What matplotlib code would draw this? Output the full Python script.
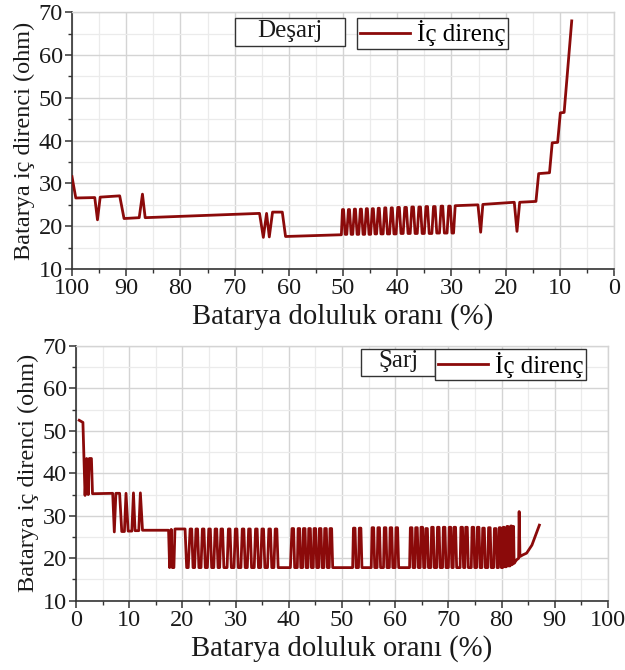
import matplotlib
matplotlib.use("Agg")
import matplotlib.pyplot as plt
from matplotlib.ticker import MultipleLocator
from matplotlib.lines import Line2D
from matplotlib.patches import Rectangle

plt.rcParams['font.family'] = ['Liberation Serif', 'DejaVu Serif']

# --- Discharge: internal resistance vs. state of charge ---
dis_soc = [100.0, 99.3, 95.8, 95.3, 94.8, 91.2, 90.4, 87.6, 87.0, 86.5,
           65.4, 64.7, 64.1, 63.6, 63.0, 61.2, 60.6, 50.5,
           50.3, 50.1, 49.9, 49.6, 49.3, 49.0, 48.8, 48.5,
           48.2, 47.9, 47.7, 47.4, 47.1, 46.8, 46.6, 46.3,
           46.0, 45.7, 45.5, 45.2, 44.9, 44.6, 44.4, 44.1,
           43.8, 43.5, 43.3, 43.0, 42.6, 42.3, 42.1, 41.8,
           41.4, 41.1, 40.9, 40.6, 40.2, 39.9, 39.6, 39.3,
           38.9, 38.6, 38.3, 38.0, 37.6, 37.3, 37.0, 36.7,
           36.3, 36.0, 35.7, 35.4, 35.0, 34.7, 34.4, 34.1,
           33.6, 33.3, 33.0, 32.7, 32.2, 31.9, 31.6, 31.3,
           30.8, 30.5, 30.2, 29.9, 29.6, 29.3,
           25.1, 24.6, 24.2, 18.4, 17.9, 17.4, 14.4, 13.9,
           11.9, 11.4, 10.4, 9.9, 9.2, 7.8]
dis_r = [31.6, 26.6, 26.7, 21.5, 26.8, 27.1, 21.8, 22.0, 27.5, 22.0,
         23.0, 17.4, 23.0, 17.5, 23.3, 23.3, 17.6, 18.0,
         18.0, 23.9, 23.9, 18.1, 18.1, 23.9, 23.9, 18.1,
         18.1, 24.0, 24.0, 18.1, 18.1, 24.0, 24.0, 18.1,
         18.1, 24.1, 24.1, 18.1, 18.1, 24.1, 24.1, 18.2,
         18.2, 24.2, 24.2, 18.2, 18.2, 24.3, 24.3, 18.2,
         18.2, 24.3, 24.3, 18.2, 18.2, 24.4, 24.4, 18.3,
         18.3, 24.4, 24.4, 18.3, 18.3, 24.5, 24.5, 18.3,
         18.3, 24.5, 24.5, 18.3, 18.3, 24.6, 24.6, 18.3,
         18.3, 24.6, 24.6, 18.4, 18.4, 24.7, 24.7, 18.4,
         18.4, 24.7, 24.7, 18.4, 18.4, 24.8,
         25.0, 18.6, 25.1, 25.6, 18.8, 25.6, 25.8, 32.3,
         32.5, 39.5, 39.6, 46.5, 46.6, 68.0]

# --- Charge: internal resistance vs. state of charge ---
chg_soc = [0.6, 1.3, 1.7, 2.0, 2.3, 2.5, 2.9, 3.1, 6.9,
           7.2, 7.5, 8.2, 8.6, 9.1, 9.4, 9.8, 10.5, 10.8, 11.1, 11.8, 12.1, 12.5, 17.4,
           17.6, 17.9, 18.1, 18.4, 18.6, 20.5, 20.8, 21.1,
           21.45, 21.75, 22.0, 22.3, 22.55, 22.85, 23.1, 23.5, 23.75, 24.05, 24.3, 24.7,
           24.95, 25.25, 25.5, 25.9, 26.15, 26.45, 26.7, 27.0, 27.25, 27.55, 27.8, 28.4,
           28.65, 28.95, 29.2, 29.7, 29.95, 30.25, 30.5, 31.0, 31.25, 31.55, 31.8, 32.2,
           32.45, 32.75, 33.0, 33.5, 33.75, 34.05, 34.3, 34.7, 34.95, 35.25, 35.5, 36.0,
           36.25, 36.55, 36.8, 37.2, 37.45, 37.75, 38.0, 40.3,
           40.6, 40.9, 41.1, 41.6, 41.75, 42.05, 42.25, 42.6, 42.75, 43.05, 43.25, 43.6,
           43.75, 44.05, 44.25, 44.6, 44.75, 45.05, 45.25, 45.6, 45.75, 46.05, 46.25, 46.6,
           46.75, 47.05, 47.25, 47.6, 47.75, 48.05, 48.25, 52.0,
           52.15, 52.45, 52.65, 53.1, 53.25, 53.55, 53.75, 55.5,
           55.65, 55.95, 56.15, 56.6, 56.75, 57.05, 57.25, 57.8,
           57.95, 58.25, 58.45, 58.9, 59.05, 59.35, 59.55, 60.0,
           60.15, 60.45, 60.65, 62.7,
           62.85, 63.15, 63.35, 63.7, 63.85, 64.15, 64.35, 64.7,
           64.85, 65.15, 65.35, 65.6, 65.75, 66.05, 66.25, 66.7,
           66.85, 67.15, 67.35, 67.8, 67.95, 68.25, 68.45, 68.9,
           69.05, 69.35, 69.55, 70.0, 70.15, 70.45, 70.65, 70.9,
           71.05, 71.35, 71.55, 72.2, 72.35, 72.65, 72.85, 73.1,
           73.25, 73.55, 73.75, 74.3, 74.45, 74.75, 74.95, 75.3,
           75.45, 75.75, 75.95, 76.3, 76.45, 76.75, 76.95, 77.4,
           77.55, 77.85, 78.05, 78.5, 78.65, 78.95, 79.15, 79.4,
           79.55, 79.8, 79.95, 80.2, 80.3, 80.5, 80.6, 80.9,
           81.0, 81.2, 81.3, 81.6, 81.7, 81.9, 82.0, 82.1, 82.25, 82.35,
           82.8, 83.2, 83.3, 83.45, 84.0, 84.7, 85.7, 87.1]
chg_r = [52.5, 52.0, 34.8, 43.5, 35.0, 43.5, 43.5, 35.2, 35.3,
         26.2, 35.3, 35.3, 26.3, 26.3, 35.3, 26.4, 26.4, 35.4, 26.5, 26.5, 35.4, 26.6, 26.6,
         17.8, 26.8, 17.8, 17.8, 26.9, 26.9, 17.8, 17.8,
         26.9, 26.9, 17.8, 17.8, 26.9, 26.9, 17.8, 17.8, 26.9, 26.9, 17.8, 17.8,
         26.9, 26.9, 17.8, 17.8, 26.9, 26.9, 17.8, 17.8, 26.9, 26.9, 17.8, 17.8,
         26.9, 26.9, 17.8, 17.8, 26.9, 26.9, 17.8, 17.8, 26.9, 26.9, 17.8, 17.8,
         26.9, 26.9, 17.8, 17.8, 26.9, 26.9, 17.8, 17.8, 26.9, 26.9, 17.8, 17.8,
         26.9, 26.9, 17.8, 17.8, 26.9, 26.9, 17.8, 17.8,
         27.0, 27.0, 17.8, 17.8, 27.0, 27.0, 17.8, 17.8, 27.0, 27.0, 17.8, 17.8,
         27.0, 27.0, 17.8, 17.8, 27.0, 27.0, 17.8, 17.8, 27.0, 27.0, 17.8, 17.8,
         27.0, 27.0, 17.8, 17.8, 27.0, 27.0, 17.8, 17.8,
         27.1, 27.1, 17.8, 17.8, 27.1, 27.1, 17.8, 17.8,
         27.2, 27.2, 17.8, 17.8, 27.2, 27.2, 17.8, 17.8,
         27.2, 27.2, 17.8, 17.8, 27.2, 27.2, 17.8, 17.8,
         27.2, 27.2, 17.8, 17.8,
         27.2, 27.2, 17.8, 17.8, 27.2, 27.2, 17.8, 17.8,
         27.3, 27.3, 17.8, 17.8, 27.0, 27.0, 17.8, 17.8,
         27.3, 27.3, 17.8, 17.8, 27.3, 27.3, 17.8, 17.8,
         27.3, 27.3, 17.8, 17.8, 27.3, 27.3, 17.8, 17.8,
         27.3, 27.3, 17.8, 17.8, 27.3, 27.3, 17.8, 17.8,
         27.3, 27.3, 17.8, 17.8, 27.3, 27.3, 17.8, 17.8,
         27.3, 27.3, 17.8, 17.8, 27.1, 27.1, 17.8, 17.8,
         27.2, 27.2, 17.8, 17.8, 27.0, 27.0, 17.8, 17.8,
         27.2, 27.2, 17.8, 17.8, 27.3, 27.3, 18.0, 18.0,
         27.5, 27.5, 18.2, 18.2, 27.6, 27.6, 18.5, 27.5, 27.5, 18.8,
         19.6, 20.0, 31.0, 20.4, 20.8, 21.2, 23.1, 27.8]

x_ticks = [0, 10, 20, 30, 40, 50, 60, 70, 80, 90, 100]
y_ticks = [10, 20, 30, 40, 50, 60, 70]
mode_labels = ["Deşarj", "Şarj"]
series_label = "İç direnç"
x_title = "Batarya doluluk oranı (%)"
y_title = "Batarya iç direnci (ohm)"

LINE = "#8b0a0a"
TICK_FS = 17.5
LEG_FS = 18

fig = plt.figure(figsize=(6.25, 6.7), dpi=100)
ax1 = fig.add_axes([0.1152, 0.5985, 0.8672, 0.3831])
ax2 = fig.add_axes([0.1216, 0.1034, 0.8512, 0.3802])


def style(ax, reverse):
    ax.set_ylim(10, 70)
    if reverse:
        ax.set_xlim(100, 0)
    else:
        ax.set_xlim(0, 100)
    ax.set_xticks(x_ticks)
    ax.set_yticks(y_ticks)
    ax.xaxis.set_minor_locator(MultipleLocator(5))
    ax.yaxis.set_minor_locator(MultipleLocator(5))
    ax.grid(which='major', color='#d4d4d4', linewidth=1.0)
    ax.grid(which='minor', color='#ebebeb', linewidth=0.9)
    ax.set_axisbelow(True)
    for s in ('top', 'right'):
        ax.spines[s].set_color('#d4d4d4')
        ax.spines[s].set_linewidth(1.0)
    for s in ('left', 'bottom'):
        ax.spines[s].set_color('#333333')
        ax.spines[s].set_linewidth(1.2)
    ax.tick_params(which='major', direction='out', length=5, width=1.1,
                   color='#333333', labelsize=TICK_FS, pad=1.5,
                   labelcolor='#1a1a1a')
    ax.tick_params(which='minor', direction='out', length=3, width=1.0,
                   color='#333333')
    ax.set_xlabel(x_title, fontsize=20.7, labelpad=3, color='#1a1a1a')
    ax.set_ylabel(y_title, fontsize=17.5, labelpad=3, color='#1a1a1a')


def boxes(ax, text, x0, x1, x2, y0, y1):
    ax.add_patch(Rectangle((x0, y0), x1 - x0, y1 - y0, transform=ax.transAxes,
                           facecolor='white', edgecolor='#333333',
                           linewidth=1.0, zorder=5, clip_on=False))
    ax.text((x0 + x1) / 2, (y0 + y1) / 2 + 0.005, text, transform=ax.transAxes,
            ha='center', va='center', fontsize=LEG_FS, zorder=6,
            color='#1a1a1a')
    leg = ax.legend([Line2D([], [], color=LINE, linewidth=2.0)], [series_label],
                    loc='upper left', bbox_to_anchor=(x2, y1),
                    borderaxespad=0, fontsize=LEG_FS, handlelength=2.0,
                    handletextpad=0.3, borderpad=0.1, fancybox=False,
                    framealpha=1, edgecolor='#333333')
    leg.get_frame().set_linewidth(1.0)
    leg.set_zorder(6)


style(ax1, True)
ax1.plot(dis_soc, dis_r, color=LINE, linewidth=2.0, zorder=3)
boxes(ax1, mode_labels[0], 0.301, 0.504, 0.526, 0.869, 0.978)

style(ax2, False)
ax2.plot(chg_soc, chg_r, color=LINE, linewidth=2.0, zorder=3)
boxes(ax2, mode_labels[1], 0.536, 0.675, 0.675, 0.882, 0.988)

fig.savefig("out.png", dpi=100)
